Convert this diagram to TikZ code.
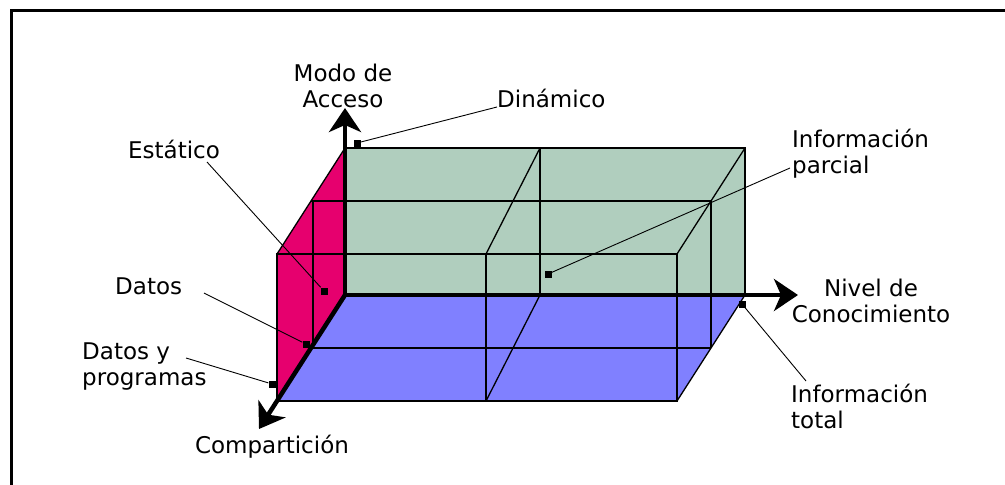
\documentclass[tikz,border=0pt]{standalone}
\usepackage{fontspec}
\setmainfont{DejaVu Sans}
\usetikzlibrary{arrows.meta, positioning}
\definecolor{corRosa}{RGB}{230,0,110}
\definecolor{corVerde}{RGB}{176,206,190}
\definecolor{corLila}{RGB}{128,128,255}

\begin{document}
\begin{tikzpicture}[x=1pt, y=-1pt, every node/.style={font=\fontsize{23}{25.5}\selectfont, inner sep=0pt}]
    \tikzstyle{eixo}=[line width=4.5pt, -{Stealth[length=24pt, width=32pt, inset=7pt]}]
    \tikzstyle{grade}=[line width=1.3pt]
    \tikzstyle{guia}=[line width=0.9pt]
    \tikzstyle{ponto}=[rectangle, fill=black, minimum size=7pt]
    \useasboundingbox (0,0) rectangle (1005,485);
    % moldura
    \draw[line width=3pt] (11.5,485) -- (11.5,10.5) -- (1005,10.5);
    % faces
    \fill[corVerde] (345,148) rectangle (745,295);
    \fill[corLila] (345,295) -- (745,295) -- (677,401) -- (277,401) -- cycle;
    \fill[corRosa] (345,148) -- (277,254) -- (277,401) -- (345,295) -- cycle;
    % grade
    \draw[grade] (345,148) -- (745,148) -- (745,295);
    \draw[grade] (540,148) -- (540,295);
    \draw[grade] (311,201) -- (711,201);
    \draw[grade] (313,201) -- (313,348) -- (711,348);
    \draw[line width=2.5pt] (711,201) -- (711,348);
    \draw[grade] (277,254) -- (677,254) -- (677,401) -- (277,401) -- cycle;
    \draw[grade] (486,254) -- (486,401);
    \draw[grade] (345,148) -- (277,254);
    \draw[grade] (540,148) -- (486,254);
    \draw[grade] (745,148) -- (677,254);
    \draw[grade] (540,295) -- (486,401);
    \draw[grade] (745,295) -- (677,401);
    % eixos
    \coordinate (O) at (345,295);
    \coordinate (fimY) at (345,108);
    \coordinate (fimX) at (798,295);
    \coordinate (fimZ) at (259,429);
    \draw[eixo] (O) -- (fimY);
    \draw[eixo] (O) -- (fimX);
    \draw[eixo] (O) -- (fimZ);
    % rotulos dos eixos
    \node[anchor=north, align=center] (modo) at (343,64) {Modo de\\Acceso};
    \node[anchor=north, align=center] (nivel) at (871,279) {Nivel de\\Conocimiento};
    \node[anchor=base] (compart) at (272,453) {Compartición};
    % rotulos com guias
    \node[anchor=base west] (dinamico) at (497,107) {Dinámico};
    \node[anchor=base west] (estatico) at (128,158) {Estático};
    \node[anchor=base west] (datos) at (115,294) {Datos};
    \node[anchor=north west, align=left] (datosprog) at (82,343) {Datos y\\programas};
    \node[anchor=north west, align=left] (parcial) at (792,129) {Información\\parcial};
    \node[anchor=north west, align=left] (total) at (791,384) {Información\\total};
    \node[ponto] (pDin) at (357,143) {};
    \node[ponto] (pEst) at (324,291) {};
    \node[ponto] (pDatos) at (306,344) {};
    \node[ponto] (pProg) at (272,384) {};
    \node[ponto] (pParcial) at (548,274) {};
    \node[ponto] (pTotal) at (742,304) {};
    \coordinate (gEst) at (207,162);
    \coordinate (gDatos) at (204,293);
    \coordinate (gProg) at (186,358);
    \coordinate (gParcial) at (790,168);
    \coordinate (gTotal) at (806,381);
    \draw[guia] (dinamico.base west) -- (pDin);
    \draw[guia] (gEst) -- (pEst);
    \draw[guia] (gDatos) -- (pDatos);
    \draw[guia] (gProg) -- (pProg);
    \draw[guia] (gParcial) -- (pParcial);
    \draw[guia] (gTotal) -- (pTotal);
  \end{tikzpicture}
\end{document}
